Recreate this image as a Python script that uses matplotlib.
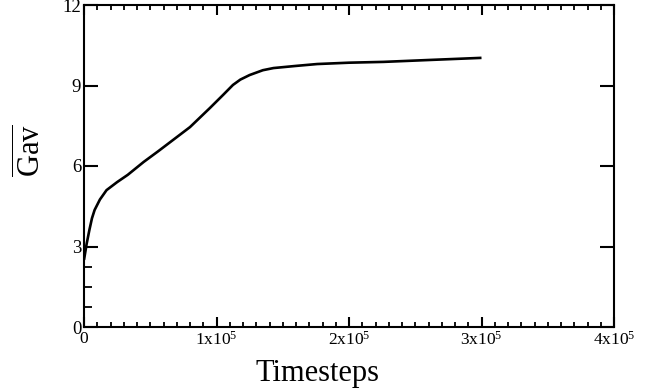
import matplotlib
matplotlib.use("Agg")
import matplotlib.pyplot as plt
from matplotlib.ticker import FixedLocator, MultipleLocator

plt.rcParams['font.family'] = ['Liberation Serif', 'DejaVu Serif']
plt.rcParams['mathtext.fontset'] = 'custom'
plt.rcParams['mathtext.rm'] = 'Liberation Serif'
plt.rcParams['mathtext.it'] = 'Liberation Serif:italic'

# data
timesteps = [0, 2e3, 4e3, 6e3, 8e3, 1.2e4, 1.7e4, 2.5e4, 3.3e4, 4.5e4, 5.6e4,
             6.8e4, 8.0e4, 9.5e4, 1.05e5, 1.124e5, 1.18e5, 1.25e5, 1.35e5,
             1.43e5, 1.6e5, 1.76e5, 2.0e5, 2.26e5, 2.6e5, 3.0e5]
gav = [2.5, 3.1, 3.6, 4.05, 4.36, 4.75, 5.1, 5.4, 5.67, 6.15, 6.55,
       7.0, 7.45, 8.16, 8.65, 9.02, 9.22, 9.39, 9.57,
       9.65, 9.73, 9.80, 9.85, 9.88, 9.95, 10.03]

x_ticks = [0, 1e5, 2e5, 3e5, 4e5]
x_tick_labels = ['0', r'1x10$^{5}$', r'2x10$^{5}$', r'3x10$^{5}$', r'4x10$^{5}$']
y_ticks = [0, 3, 6, 9, 12]
y_tick_labels = ['0', '3', '6', '9', '12']
y_minor_left = [0.75, 1.5, 2.25]

fig = plt.figure(figsize=(6.54, 3.91), dpi=100)
ax = fig.add_axes([84/654, 1-327/391, 530/654, 322/391])

ax.plot(timesteps, gav, color='black', lw=1.9, solid_capstyle='butt')

ax.set_xlim(0, 4e5)
ax.set_ylim(0, 12)

for s in ax.spines.values():
    s.set_linewidth(1.5)

ax.set_xticks(x_ticks)
ax.set_xticklabels(x_tick_labels, fontsize=12.5)
ax.set_yticks(y_ticks)
ax.set_yticklabels(y_tick_labels, fontsize=13.5)
ax.xaxis.set_minor_locator(MultipleLocator(1e4))
ax.yaxis.set_minor_locator(FixedLocator(y_minor_left))

ax.tick_params(axis='x', which='major', direction='in', length=7, width=1.5,
               top=True, bottom=True, pad=3)
ax.tick_params(axis='x', which='minor', direction='in', length=3.5, width=1.3,
               top=True, bottom=True)
ax.tick_params(axis='y', which='major', direction='in', length=10, width=1.5,
               left=True, right=True, pad=2)
ax.tick_params(axis='y', which='minor', direction='in', length=6, width=1.3,
               left=True, right=False)

ax.set_xlabel('Timesteps', fontsize=22)
ax.xaxis.set_label_coords(0.44, -0.1)
ax.set_ylabel(r'$\overline{\mathrm{Gav}}$', fontsize=22)
ax.yaxis.set_label_coords(-0.068, 0.547)

fig.savefig('out.png', dpi=100)
